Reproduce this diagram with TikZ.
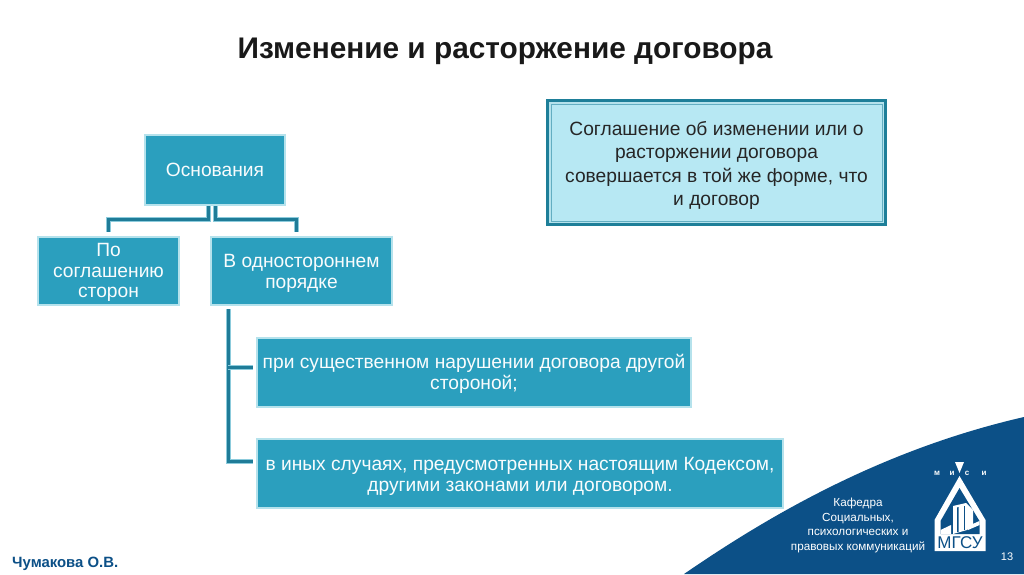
\documentclass[tikz,border=0pt]{standalone}
\usepackage{fontspec}
\setmainfont{Liberation Sans}
\usetikzlibrary{calc}
\definecolor{boxfill}{HTML}{2B9FBE}
\definecolor{boxedge}{HTML}{B5E2EC}
\definecolor{linkdark}{HTML}{1F7C98}
\definecolor{linklight}{HTML}{8CCBDC}
\definecolor{wave}{HTML}{0C5087}
\definecolor{notefill}{HTML}{B7E8F3}
\definecolor{noteedge}{HTML}{1E7F99}
\tikzset{
  basebox/.style={draw=boxedge,fill=boxfill,line width=1.3pt,inner sep=0pt},
  boxtext/.style={text=white!97!boxfill,align=center,inner sep=0pt,font=\fontsize{19.2}{20.5}\selectfont},
  link/.style={draw=linkdark,line width=3pt,preaction={draw=linklight,line width=5pt}},
  footertext/.style={text=white,align=center,inner sep=0pt},
}
\begin{document}
\begin{tikzpicture}[x=1pt,y=-1pt]
\useasboundingbox (0,0) rectangle (1024,574);
\fill[white] (0,0) rectangle (1024,574);
% wave
\fill[wave] (684,574) .. controls (767,517) and (880,450) .. (1024,417) -- (1024,574) -- cycle;
% title
\node[inner sep=0pt,font=\fontsize{29.8}{32}\selectfont\bfseries,text=black!90] (title) at (505,51.5) {Изменение и расторжение договора};
% note
\node[draw=noteedge,fill=boxedge,line width=3pt,minimum width=338pt,minimum height=124pt,inner sep=0pt] (note) at (716.5,162.5) {};
\draw[noteedge!55!notefill,fill=notefill,line width=0.9pt] ($(note.north west)+(5,5)$) rectangle ($(note.south east)+(-5,-5)$);
\node[align=center,inner sep=0pt,text=black!85,font=\fontsize{19.2}{23.4}\selectfont] (notetext) at (716.5,165.5) {Соглашение об изменении или о\\расторжении договора\\совершается в той же форме, что\\и договор};
% boxes
\node[basebox,minimum width=140pt,minimum height=70pt] (osn) at (215,170) {};
\node[boxtext] (osnt) at (215,169.5) {Основания};
\node[basebox,minimum width=141pt,minimum height=68pt] (sog) at (108.5,271) {};
\node[boxtext] (sogt) at (108.5,272.5) {По\\соглашению\\сторон};
\node[basebox,minimum width=181pt,minimum height=68pt] (odn) at (301.5,271) {};
\node[boxtext] (odnt) at (301.5,273.5) {В одностороннем\\порядке};
\node[basebox,minimum width=434pt,minimum height=69pt] (nar) at (474,372.5) {};
\node[boxtext] (nart) at (474,374) {при существенном нарушении договора другой\\стороной;};
\node[basebox,minimum width=526pt,minimum height=69pt] (inye) at (520,473.5) {};
\node[boxtext] (inyet) at (520,476.5) {в иных случаях, предусмотренных настоящим Кодексом,\\другими законами или договором.};
% connectors
\coordinate (jl) at (208,206);
\coordinate (jr) at (215,206);
\coordinate (kl) at (108,219);
\coordinate (kr) at (296,219);
\coordinate (el) at (108,232);
\coordinate (er) at (296,232);
\coordinate (stem) at (228,309);
\coordinate (bt) at (253,367);
\coordinate (bb) at (253,461);
\path[link] (jl) |- (kl) -- (el);
\path[link] (jr) |- (kr) -- (er);
\path[link] (stem) |- (bb);
\path[link] (stem |- bt) -- (bt);
% footer
\node[inner sep=0pt,font=\fontsize{14.9}{16}\selectfont\bfseries,text=wave,anchor=west] (author) at (12,564) {Чумакова О.В.};
\node[footertext,font=\fontsize{11.7}{14.4}\selectfont] (dept) at (858,525.5) {Кафедра\\Социальных,\\психологических и\\правовых коммуникаций};
\node[inner sep=0pt,text=white,font=\fontsize{11}{12}\selectfont] (pagenum) at (1007,557) {13};
% logo
\fill[white] (959.5,476) -- (985.5,520) -- (985.5,551) -- (934.5,551) -- (934.5,520) -- cycle;
\fill[wave] (959.5,488) -- (979.5,521) -- (979.5,534) -- (940.5,534) -- (940.5,521) -- cycle;
\fill[white] (953,506) -- (966,503) -- (973,510) -- (973,524) -- (967,530) -- (953,534) -- cycle;
\fill[wave] (957,507.5) -- (958.6,507) -- (958.6,532) -- (957,532) -- cycle;
\fill[wave] (964,506) -- (965.4,506) -- (965.4,530) -- (964,530) -- cycle;
\fill[white] (940.5,530) -- (951,525) -- (951,534) -- (940.5,534) -- cycle;
\fill[white] (968,526) -- (979.5,521) -- (979.5,525) -- (968,530) -- cycle;
\fill[white] (955,462) -- (964,462) -- (959.5,473) -- cycle;
\node[inner sep=0pt,font=\fontsize{17}{17}\selectfont,text=wave] (mgsu) at (960,543) {МГСУ};
\foreach \nm/\px/\ch in {la/937/м,lb/952/и,lc/967/с,ld/984/и}
  \node[inner sep=0pt,font=\fontsize{8}{8}\selectfont\bfseries,text=white] (\nm) at (\px,473) {\ch};
\end{tikzpicture}
\end{document}
